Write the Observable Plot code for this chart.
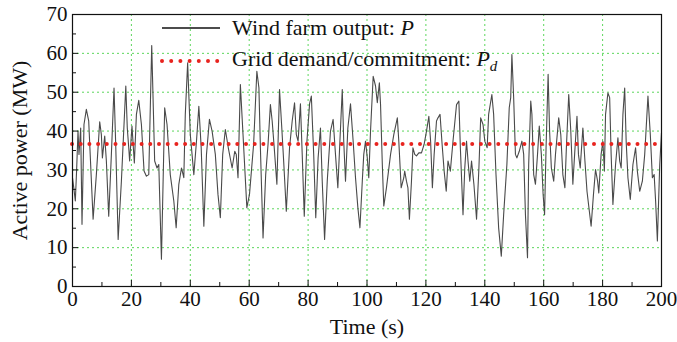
<!DOCTYPE html>
<html>
<head>
<meta charset="utf-8">
<script src="https://cdn.jsdelivr.net/npm/d3@7"></script>
<script src="https://cdn.jsdelivr.net/npm/@observablehq/plot@0.6"></script>
<style>
  html, body { margin: 0; padding: 0; background: #fff; }
  #wrap { position: relative; width: 677px; height: 342px; font-family: "Liberation Serif", "Times New Roman", serif; }
  #legend { position: absolute; left: 160px; top: 11px; font-size: 22px; color: #111; }
  .row { display: flex; align-items: center; height: 33px; white-space: nowrap; }
  .row svg { margin-right: 12px; }
</style>
</head>
<body>
<div id="wrap">
  <div id="chart"></div>
  <div id="legend">
    <div class="row"><svg width="60" height="10"><line x1="2" y1="5" x2="60" y2="5" stroke="#111" stroke-width="1.3"/></svg><span>Wind farm output: <i>P</i></span></div>
    <div class="row"><svg width="60" height="10"><line x1="2" y1="5" x2="58" y2="5" stroke="#e8231e" stroke-width="4" stroke-dasharray="0 9.2" stroke-linecap="round"/></svg><span>Grid demand/commitment: <i>P<sub style="font-size:15px">d</sub></i></span></div>
  </div>
</div>
<script>
const times = [
  0, 0.5, 0.96, 1.4, 1.87, 2.2, 2.78, 3.23, 3.9, 4.7, 5.5, 7.0, 8.1, 9.24, 9.8, 10.15, 10.94, 11.5, 12.3, 13.2,
  14.1, 14.7, 15.5, 16.6, 18.1, 18.6, 19.1, 19.4, 20.2, 20.7, 21.0, 21.7, 22.5, 23.4, 24.3, 25.1, 25.9, 26.9,
  27.9, 28.7, 29.3, 30.2, 31.3, 32.1, 33.2, 34.4, 35.2, 36.1, 37.0, 37.8, 38.3, 39.1, 40.0, 41.2, 42.1, 42.9,
  43.7, 44.6, 45.5, 46.5, 47.4, 48.5, 49.4, 50.2, 51.0, 51.9, 52.9, 54.2, 55.1,
  55.6, 56.2, 57.0, 57.9, 59.2, 60.1, 61.5, 62.6, 63.3, 63.8, 64.7, 65.6, 66.4, 67.2, 67.8, 68.5, 69.4, 70.3,
  71.0, 71.7, 72.6, 73.7, 74.6, 75.4, 76.0, 76.6, 77.4, 78.0, 78.7, 79.6, 80.5, 81.1, 81.9, 82.6, 83.4, 84.2,
  84.8, 85.6, 86.5, 87.6, 88.5, 89.3, 90.1, 90.8, 91.6, 92.1, 92.7, 93.5, 94.4, 95.3, 96.1, 96.9, 97.6, 98.4,
  98.9, 99.5, 100.1, 100.6, 101.2, 102.1, 102.9, 103.5, 104.2, 104.6, 105.2, 105.7, 106.6, 108.0, 109.1, 110.3,
  110.8, 111.6, 112.5,
  112.8, 113.4, 113.9, 114.4, 115.1, 115.6, 116.2, 116.8, 117.6, 118.5, 119.4, 120.2, 121.0, 121.6, 122.2,
  122.8, 123.6, 124.1, 124.8, 125.5, 126.2, 126.9, 127.5, 128.3, 129.2, 130.4, 131.2, 131.7, 132.6, 133.2,
  133.8, 134.3, 134.9, 135.5, 136.3, 137.2, 138.0, 138.6, 139.4, 140.0, 140.8,
  141.3, 142.4, 143.0, 143.8, 144.7, 145.6, 146.4, 147.5, 148.3, 148.8, 149.2, 149.8, 150.4, 150.9, 151.7,
  152.6, 153.2, 153.8, 154.5, 154.9, 155.6, 156.0, 156.6, 157.2, 157.9, 158.5, 159.2, 159.8, 160.3, 160.8,
  161.5, 162.0, 162.6, 163.4, 164.0, 165.1, 165.8, 166.5, 167.2, 167.7, 168.5, 169.2, 169.9,
  170.5, 171.3, 171.8, 172.4, 173.3, 174.0, 174.7, 176.1, 176.9, 177.6, 178.3, 178.7, 179.5, 180.1, 180.6,
  181.0, 181.8, 182.4, 182.9, 183.5, 184.4, 185.2, 185.8, 186.3, 186.9, 187.5, 188.0, 188.6, 189.4, 190.3,
  191.2, 191.8, 192.6, 193.5, 194.3, 195.4, 196.2, 196.9, 197.5, 198.0, 198.6, 199.4, 200
];
const power = [
  28.0, 25.0, 22.0, 30.0, 40.0, 34.0, 40.8, 16.0, 41.7, 45.6, 42.6, 17.3, 28.8, 42.4, 39.1, 33.1, 38.7, 32.3, 18.1, 34.0,
  51.1, 35.7, 12.1, 27.1, 51.6, 40.8, 35.7, 32.3, 41.3, 35.3, 31.8, 44.3, 47.9, 41.7, 29.7, 28.4, 28.8, 62.0,
  32.3, 30.5, 31.4, 7.0, 46.0, 41.7, 28.8, 22.0, 15.1, 26.3, 30.5, 28.0, 44.3, 57.6, 39.1, 28.8, 37.4, 46.4,
  35.7, 15.5, 34.0, 43.0, 40.0, 34.0, 23.7, 17.7, 34.0, 40.4, 35.7, 30.5, 34.8,
  34.0, 28.0, 52.0, 39.1, 20.3, 23.7, 36.6, 55.4, 51.1, 35.7, 12.5, 28.8, 36.6, 46.8, 42.6, 35.7, 26.3, 50.7,
  41.7, 32.3, 19.4, 35.7, 42.6, 47.3, 39.1, 37.4, 47.0, 34.0, 18.1, 37.4, 47.0, 49.0, 34.0, 17.7, 33.1, 40.8,
  27.1, 12.1, 27.1, 40.0, 43.0, 34.0, 25.4, 37.4, 50.7, 37.4, 27.1, 40.8, 47.0, 37.4, 28.0, 20.3, 15.1, 27.1,
  34.0, 37.4, 33.1, 28.0, 40.0, 54.1, 51.6, 47.3, 52.4, 46.8, 31.4, 20.7, 25.4, 34.0, 39.1, 43.4,
  37.4, 25.4, 28.0,
  29.7, 27.1, 25.4, 17.3, 27.1, 35.7, 34.0, 33.6, 34.4, 34.4, 36.6, 40.0, 43.8, 37.4, 25.4,
  34.0, 42.6, 43.4, 44.3, 36.6, 29.7, 24.5, 32.3, 29.7, 37.4, 46.8, 47.7, 35.7, 18.5, 30.5,
  37.4, 32.3, 27.1, 32.3, 26.3, 17.3, 30.5, 43.4, 41.7, 37.4, 35.7,
  44.3, 49.4, 44.3, 28.8, 15.1, 7.8, 18.5, 31.4, 46.0, 48.6, 59.7, 48.6, 34.0, 33.1, 34.8,
  37.4, 34.0, 18.5, 7.4, 31.4, 47.7, 44.3, 28.8, 26.3, 34.0, 41.3, 34.0, 23.7, 18.5, 35.7,
  54.6, 40.0, 30.5, 27.1, 34.0, 43.4, 39.1, 28.8, 25.4, 35.7, 49.4, 40.0, 26.3,
  34.0, 43.8, 34.0, 30.5, 40.8, 32.3, 24.5, 15.5, 23.7, 30.1, 27.1, 24.1, 34.0, 37.4, 29.7,
  44.3, 49.8, 48.6, 34.0, 21.1, 31.4, 38.3, 32.3, 30.5, 44.3, 51.1, 37.4, 28.0, 22.4, 31.4,
  35.7, 29.7, 24.5, 27.1, 34.0, 49.0, 39.1, 28.0, 28.8, 22.0, 11.7, 31.4, 39.6
];
const demand = [36.7];
const xTicks = [0, 20, 40, 60, 80, 100, 120, 140, 160, 180, 200];
const xMinor = [10, 30, 50, 70, 90, 110, 130, 150, 170, 190];
const yTicks = [0, 10, 20, 30, 40, 50, 60, 70];
const yMinor = [5, 15, 25, 35, 45, 55, 65];
const xGrid = [20, 40, 60, 80, 100, 120, 140, 160, 180];
const yGrid = [10, 20, 30, 40, 50, 60];

const data = times.map((t, i) => ({t, p: power[i]}));
const green = "#33cc33";

const chart = Plot.plot({
  width: 677,
  height: 342,
  marginLeft: 72,
  marginRight: 16,
  marginTop: 14,
  marginBottom: 56,
  style: {fontFamily: "Liberation Serif, Times New Roman, serif", fontSize: "21px", background: "#fff", color: "#111", overflow: "visible"},
  x: {domain: [0, 200]},
  y: {domain: [0, 70]},
  marks: [
    Plot.gridX(xGrid, {stroke: green, strokeOpacity: 0.8, strokeDasharray: "2,3", strokeWidth: 1}),
    Plot.gridY(yGrid, {stroke: green, strokeOpacity: 0.8, strokeDasharray: "2,3", strokeWidth: 1}),
    Plot.line(data, {x: "t", y: "p", stroke: "#4a4a4a", strokeWidth: 1.1}),
    Plot.ruleY(demand, {stroke: "#e8231e", strokeWidth: 4, strokeDasharray: "0,8.7", strokeLinecap: "round"}),
    Plot.frame({stroke: "#111", strokeWidth: 1.2}),
    Plot.ruleX(xTicks, {x: d => d, y1: 0, y2: 0, insetTop: -6, stroke: "#111"}),
    Plot.ruleX(xMinor, {x: d => d, y1: 0, y2: 0, insetTop: -4, stroke: "#111"}),
    Plot.ruleY(yTicks, {y: d => d, x1: 0, x2: 0, insetRight: -6, stroke: "#111"}),
    Plot.ruleY(yMinor, {y: d => d, x1: 0, x2: 0, insetRight: -4, stroke: "#111"}),
    Plot.axisX(xTicks, {tickSize: 0, tickPadding: 5, fontSize: 21, label: null}),
    Plot.axisX({ticks: [], tickSize: 0, fontSize: 22, label: "Time (s)", labelAnchor: "center", labelOffset: 47, labelArrow: "none"}),
    Plot.axisY(yTicks, {tickSize: 0, tickPadding: 5, fontSize: 21, label: null}),
    Plot.axisY({ticks: [], tickSize: 0, fontSize: 22, label: "Active power (MW)", labelAnchor: "center", labelOffset: 61, labelArrow: "none"})
  ]
});
document.getElementById("chart").appendChild(chart);
</script>
</body>
</html>
